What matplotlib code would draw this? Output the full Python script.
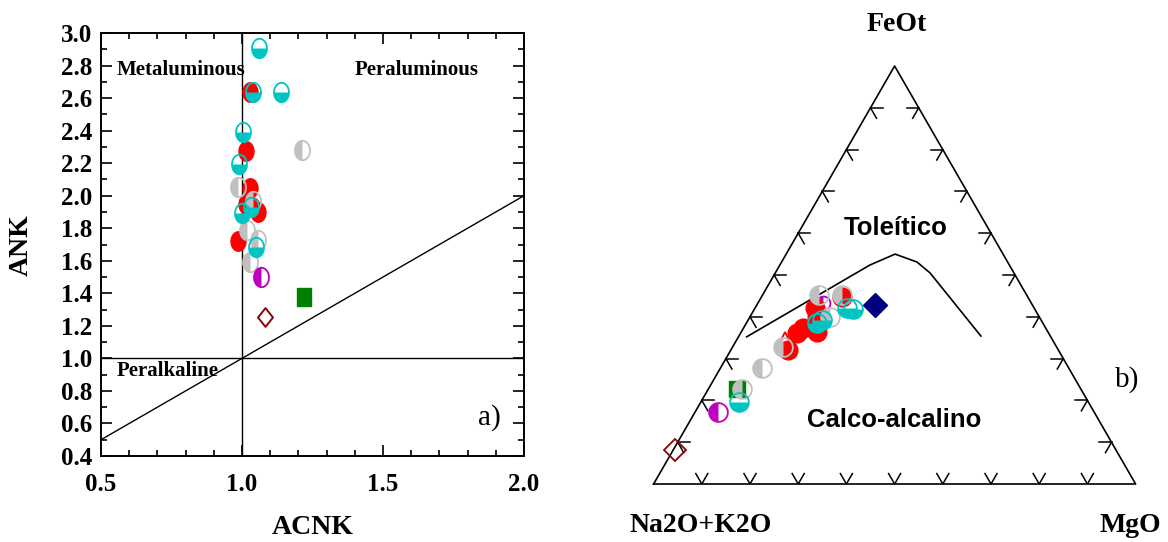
import matplotlib

matplotlib.use("Agg")

import matplotlib.pyplot as plt
import numpy as np
from matplotlib.path import Path
from matplotlib.ticker import MultipleLocator

# ---- panel a) : ACNK vs ANK (values read off the figure)
CYAN_ACNK = [1.059, 1.040, 1.138, 1.004, 0.989, 1.032, 1.000, 1.050]
CYAN_ANK = [2.91, 2.64, 2.635, 2.39, 2.195, 1.93, 1.895, 1.683]
RED_ACNK = [1.029, 1.015, 1.029, 1.015, 1.055, 1.035, 0.987]
RED_ANK = [2.64, 2.277, 2.05, 1.95, 1.90, 1.93, 1.72]
GRAY_ACNK = [1.213, 0.987, 1.038, 1.018, 1.058, 1.029]
GRAY_ANK = [2.28, 2.055, 1.97, 1.79, 1.73, 1.59]
MAGENTA_ACNK = [1.067]
MAGENTA_ANK = [1.50]
GREEN_ACNK = [1.220]
GREEN_ANK = [1.375]
BROWN_ACNK = [1.082]
BROWN_ANK = [1.253]

# ---- panel b) : AFM ternary, (Na2O+K2O, FeOt, MgO) in %
AFM_CYAN = [(72.4, 19.7, 7.9), (46.9, 38.5, 14.6), (45.5, 39.2, 15.3),
            (38.9, 42.0, 19.1), (37.7, 41.9, 20.4)]
AFM_RED = [(56.0, 32.1, 11.9), (52.3, 36.1, 11.7), (50.3, 37.3, 12.3),
           (47.9, 36.4, 15.6), (46.2, 40.0, 13.8), (45.5, 42.1, 12.4),
           (38.6, 44.7, 16.7)]
AFM_RED_OPEN = [(55.4, 34.6, 10.0)]
AFM_GRAY = [(70.4, 22.7, 6.9), (63.7, 27.7, 8.6), (56.7, 32.8, 10.5),
            (43.0, 45.2, 11.8), (38.4, 45.2, 16.4), (43.4, 40.0, 16.6)]
AFM_MAGENTA = [(77.9, 17.3, 4.8), (43.2, 43.3, 13.5)]
AFM_GREEN = [(71.4, 22.7, 5.9)]
AFM_BROWN = [(91.5, 8.1, 0.4)]
AFM_NAVY = [(32.6, 42.8, 24.6)]

# Irvine & Baragar tholeiitic / calc-alkaline divide
DIVIDE_AFM = [(63.1, 35.2, 1.7), (28.9, 52.4, 18.7), (22.4, 55.0, 22.6),
              (18.8, 53.1, 28.1), (17.4, 50.5, 32.1), (14.4, 35.4, 50.2)]

C_CYAN = "#00C4C4"
C_RED = "#FF0000"
C_GRAY = "#C0C0C0"
C_MAGENTA = "#C000C0"
C_GREEN = "#008000"
C_BROWN = "#8B0000"
C_NAVY = "#000080"

SERIF = "Liberation Serif"
SANS = "Liberation Sans"
W, H = 1168, 542


def ellipse_path(stretch=1.0, part="full"):
    if part == "bottom":
        t = np.linspace(np.pi, 2 * np.pi, 40)
    elif part == "left":
        t = np.linspace(np.pi / 2, 3 * np.pi / 2, 40)
    else:
        t = np.linspace(0, 2 * np.pi, 80)
    verts = np.column_stack([np.cos(t), stretch * np.sin(t)])
    verts = np.vstack([verts, verts[:1]])
    return Path(verts, closed=True)


def poly_path(points):
    verts = np.vstack([points, points[:1]])
    return Path(verts, closed=True)


def square_path(stretch=1.0):
    return poly_path(np.array([[-1, -stretch], [1, -stretch], [1, stretch], [-1, stretch]]))


def diamond_path(stretch=1.0):
    return poly_path(np.array([[0, -stretch], [1, 0], [0, stretch], [-1, 0]]))


def half_marker(ax, x, y, color, part, stretch, ms, z):
    ax.plot(x, y, ls="none", marker=ellipse_path(stretch, part), ms=ms,
            mfc=color, mec="none", zorder=z, clip_on=False)
    ax.plot(x, y, ls="none", marker=ellipse_path(stretch), ms=ms,
            mfc="none", mec=color, mew=1.3, zorder=z + 0.1, clip_on=False)


def afm_xy(points):
    arr = np.asarray(points, dtype=float)
    arr = arr / arr.sum(axis=1, keepdims=True)
    feo, mgo = arr[:, 1], arr[:, 2]
    return mgo + feo / 2, feo * np.sqrt(3) / 2


def plot_acnk(fig):
    ax = fig.add_axes([101 / W, 1 - 456 / H, 423 / W, 423 / H])
    ax.set_xlim(0.5, 2.0)
    ax.set_ylim(0.4, 3.0)

    xs = np.array([0.5, 2.0])
    ax.plot(xs, xs, color="black", lw=1.0, zorder=1)
    ax.axhline(1.0, color="black", lw=1.0, zorder=1)
    ax.axvline(1.0, color="black", lw=1.0, zorder=1)

    st, ms = 1.3, 14
    ax.plot(RED_ACNK, RED_ANK, ls="none", marker=ellipse_path(st), ms=ms,
            mfc=C_RED, mec=C_RED, mew=1.0, zorder=3)
    half_marker(ax, GRAY_ACNK, GRAY_ANK, C_GRAY, "left", st, ms, 4)
    half_marker(ax, CYAN_ACNK, CYAN_ANK, C_CYAN, "bottom", st, ms, 5)
    half_marker(ax, MAGENTA_ACNK, MAGENTA_ANK, C_MAGENTA, "left", st, ms, 5)
    ax.plot(GREEN_ACNK, GREEN_ANK, ls="none", marker=square_path(1.28), ms=13.5,
            mfc=C_GREEN, mec=C_GREEN, zorder=5)
    ax.plot(BROWN_ACNK, BROWN_ANK, ls="none", marker=diamond_path(1.25), ms=13.5,
            mfc="none", mec=C_BROWN, mew=1.4, zorder=5)

    tk = dict(fontfamily=SERIF, fontweight="bold", fontsize=15)
    ax.text(0.557, 2.773, "Metaluminous", ha="left", va="center", **tk)
    ax.text(1.40, 2.773, "Peraluminous", ha="left", va="center", **tk)
    ax.text(0.557, 0.923, "Peralkaline", ha="left", va="center", **tk)
    ax.text(1.876, 0.634, "a)", ha="center", va="center",
            fontfamily=SERIF, fontsize=21)

    ax.xaxis.set_major_locator(MultipleLocator(0.5))
    ax.xaxis.set_minor_locator(MultipleLocator(0.1))
    ax.yaxis.set_major_locator(MultipleLocator(0.2))
    ax.yaxis.set_minor_locator(MultipleLocator(0.1))
    ax.xaxis.set_major_formatter(lambda v, p: f"{v:.1f}")
    ax.yaxis.set_major_formatter(lambda v, p: f"{v:.1f}")
    ax.tick_params(which="both", direction="in", top=True, right=True, width=1.2)
    ax.tick_params(which="major", length=8)
    ax.tick_params(which="minor", length=4.5)
    ax.tick_params(axis="x", which="major", pad=12)
    ax.tick_params(axis="y", which="major", pad=6)
    for lab in ax.get_xticklabels() + ax.get_yticklabels():
        lab.set_fontfamily(SERIF)
        lab.set_fontweight("bold")
        lab.set_fontsize(18)
    for spine in ax.spines.values():
        spine.set_linewidth(1.4)

    fig.text(313 / W, 1 - 528 / H, "ACNK", ha="center", va="center",
             fontfamily=SERIF, fontweight="bold", fontsize=20)
    fig.text(21 / W, 1 - 245 / H, "ANK", ha="center", va="center", rotation=90,
             fontfamily=SERIF, fontweight="bold", fontsize=20)


def plot_afm(fig):
    ax = fig.add_axes([653.6 / W, 1 - 484 / H, 482 / W, 418 / H])
    h = np.sqrt(3) / 2
    ax.set_xlim(0, 1)
    ax.set_ylim(0, h)
    ax.axis("off")

    ax.plot([0, 1, 0.5, 0], [0, 0, h, 0], color="black", lw=1.2, clip_on=False)

    arm = 0.025
    left_dir = np.array([0.5, h])
    right_dir = np.array([-0.5, h])
    for t in np.arange(1, 10) / 10:
        p = np.array([t, 0.0])
        for d in (left_dir, right_dir):
            ax.plot([p[0], p[0] + arm * d[0]], [p[1], p[1] + arm * d[1]], color="black", lw=1.1)
        p = t * left_dir
        for d in (np.array([1.0, 0.0]), np.array([0.5, -h])):
            ax.plot([p[0], p[0] + arm * d[0]], [p[1], p[1] + arm * d[1]], color="black", lw=1.1)
        p = np.array([1.0, 0.0]) + t * right_dir
        for d in (np.array([-1.0, 0.0]), np.array([-0.5, -h])):
            ax.plot([p[0], p[0] + arm * d[0]], [p[1], p[1] + arm * d[1]], color="black", lw=1.1)

    dx, dy = afm_xy(DIVIDE_AFM)
    ax.plot(dx, dy, color="black", lw=1.2)

    ms = 13.5
    x, y = afm_xy(AFM_MAGENTA)
    half_marker(ax, x[1:], y[1:], C_MAGENTA, "left", 1.0, 10, 2)
    x, y = afm_xy(AFM_RED_OPEN)
    ax.plot(x, y, ls="none", marker="^", ms=10, mfc="none", mec=C_RED, mew=1.3, zorder=2)
    x, y = afm_xy(AFM_RED)
    ax.plot(x, y, ls="none", marker="o", ms=ms, mfc=C_RED, mec=C_RED, zorder=3)
    x, y = afm_xy(AFM_GREEN)
    ax.plot(x, y, ls="none", marker="s", ms=12, mfc=C_GREEN, mec=C_GREEN, zorder=3)
    x, y = afm_xy(AFM_GRAY)
    half_marker(ax, x, y, C_GRAY, "left", 1.0, ms, 4)
    x, y = afm_xy(AFM_CYAN)
    half_marker(ax, x, y, C_CYAN, "bottom", 1.0, ms, 5)
    x, y = afm_xy(AFM_MAGENTA)
    half_marker(ax, x[:1], y[:1], C_MAGENTA, "left", 1.0, ms, 5)
    x, y = afm_xy(AFM_BROWN)
    ax.plot(x, y, ls="none", marker="D", ms=11, mfc="none", mec=C_BROWN, mew=1.3,
            zorder=5, clip_on=False)
    x, y = afm_xy(AFM_NAVY)
    ax.plot(x, y, ls="none", marker="D", ms=12, mfc=C_NAVY, mec=C_NAVY, zorder=5)

    lab = dict(fontfamily=SERIF, fontweight="bold", fontsize=20, ha="center", va="center")
    ax.text(0.505, 0.953, "FeOt", **lab)
    ax.text(0.098, -0.085, "Na2O+K2O", **lab)
    ax.text(0.989, -0.085, "MgO", **lab)
    fld = dict(fontfamily=SANS, fontweight="bold", fontsize=18.5, ha="center", va="center")
    ax.text(0.503, 0.530, "Toleítico", **fld)
    ax.text(0.500, 0.133, "Calco-alcalino", **fld)
    ax.text(0.982, 0.2155, "b)", fontfamily=SERIF, fontsize=21, ha="center", va="center")


def main() -> None:
    fig = plt.figure(figsize=(W / 100, H / 100), dpi=100)
    plot_acnk(fig)
    plot_afm(fig)
    fig.savefig("out.png", dpi=100)
    plt.close(fig)


if __name__ == "__main__":
    main()
